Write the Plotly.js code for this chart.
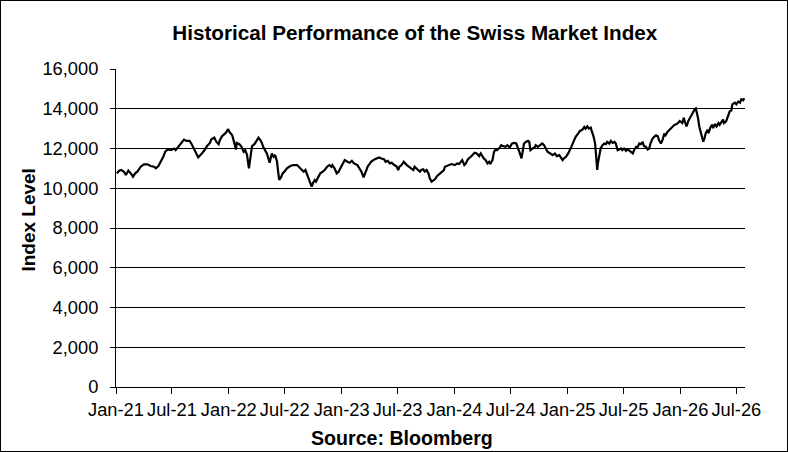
<!DOCTYPE html>
<html>
<head>
<meta charset="utf-8">
<script src="https://cdn.plot.ly/plotly-3.0.1.min.js"></script>
<style>
body{margin:0;padding:0;background:#fff;}
#chart{width:786px;height:450px;border:1px solid #000;}
</style>
</head>
<body>
<div id="chart"></div>
<script>
// SMI closing levels (roughly weekly).
var dates = [
'2021-01-04','2021-01-11','2021-01-18','2021-01-27','2021-02-02','2021-02-10','2021-02-18','2021-02-25','2021-03-04','2021-03-11',
'2021-03-22','2021-04-01','2021-04-13','2021-04-23','2021-05-04','2021-05-10','2021-05-18','2021-05-26','2021-06-03','2021-06-09',
'2021-06-17','2021-06-28','2021-07-08','2021-07-13','2021-07-23','2021-08-04','2021-08-09','2021-08-17','2021-08-27','2021-09-03',
'2021-09-10','2021-09-17','2021-09-24','2021-10-01','2021-10-13','2021-10-22','2021-11-01','2021-11-05','2021-11-15','2021-11-22',
'2021-11-29','2021-12-03','2021-12-10','2021-12-22','2021-12-27','2021-12-30','2022-01-03','2022-01-12','2022-01-17','2022-01-24',
'2022-01-27','2022-02-04','2022-02-10','2022-02-18','2022-02-23','2022-03-01','2022-03-07','2022-03-11','2022-03-17','2022-03-25',
'2022-04-01','2022-04-07','2022-04-12','2022-04-18','2022-04-22','2022-04-29','2022-05-04','2022-05-09','2022-05-13','2022-05-20',
'2022-05-26','2022-05-31','2022-06-06','2022-06-09','2022-06-13','2022-06-20','2022-06-24','2022-06-30','2022-07-08','2022-07-19',
'2022-07-29','2022-08-10','2022-08-17','2022-08-24','2022-08-31','2022-09-06','2022-09-12','2022-09-16','2022-09-22','2022-09-26',
'2022-09-30','2022-10-06','2022-10-10','2022-10-17','2022-10-24','2022-11-01','2022-11-07','2022-11-15','2022-11-22','2022-11-29',
'2022-12-02','2022-12-09','2022-12-16','2022-12-22','2022-12-28','2023-01-04','2023-01-11','2023-01-20','2023-01-27','2023-02-03',
'2023-02-10','2023-02-21','2023-02-28','2023-03-06','2023-03-13','2023-03-16','2023-03-21','2023-03-27','2023-04-03','2023-04-06',
'2023-04-17','2023-04-24','2023-05-02','2023-05-10','2023-05-19','2023-05-23','2023-05-30','2023-06-06','2023-06-12','2023-06-20',
'2023-06-27','2023-07-03','2023-07-07','2023-07-14','2023-07-21','2023-07-31','2023-08-07','2023-08-14','2023-08-21','2023-08-25',
'2023-09-04','2023-09-11','2023-09-15','2023-09-22','2023-09-27','2023-10-03','2023-10-09','2023-10-13','2023-10-19','2023-10-24',
'2023-10-30','2023-11-06','2023-11-14','2023-11-20','2023-11-28','2023-12-01','2023-12-11','2023-12-22','2024-01-02','2024-01-10',
'2024-01-16','2024-01-22','2024-01-26','2024-02-02','2024-02-07','2024-02-12','2024-02-16','2024-02-23','2024-02-28','2024-03-06',
'2024-03-13','2024-03-21','2024-03-26','2024-04-01','2024-04-05','2024-04-11','2024-04-17','2024-04-22','2024-04-26','2024-05-03',
'2024-05-08','2024-05-13','2024-05-17','2024-05-27','2024-05-31','2024-06-07','2024-06-14','2024-06-20','2024-06-28','2024-07-05',
'2024-07-11','2024-07-19','2024-07-24','2024-07-29','2024-08-05','2024-08-09','2024-08-13','2024-08-19','2024-08-26','2024-08-30',
'2024-09-03','2024-09-10','2024-09-16','2024-09-20','2024-09-27','2024-10-04','2024-10-11','2024-10-17','2024-10-23','2024-10-28',
'2024-11-06','2024-11-13','2024-11-21','2024-11-27','2024-12-05','2024-12-10','2024-12-16','2024-12-20','2024-12-27','2025-01-03',
'2025-01-09','2025-01-13','2025-01-20','2025-01-27','2025-02-04','2025-02-10','2025-02-18','2025-02-24','2025-02-28','2025-03-06',
'2025-03-11','2025-03-17','2025-03-21','2025-03-25','2025-03-31','2025-04-03','2025-04-07','2025-04-09','2025-04-14','2025-04-18',
'2025-04-24','2025-04-30','2025-05-05','2025-05-09','2025-05-16','2025-05-21','2025-05-27','2025-06-02','2025-06-06','2025-06-12',
'2025-06-17','2025-06-23','2025-06-27','2025-07-03','2025-07-09','2025-07-14','2025-07-18','2025-07-25','2025-07-31','2025-08-05',
'2025-08-11','2025-08-15','2025-08-21','2025-08-26','2025-09-01','2025-09-05','2025-09-12','2025-09-17','2025-09-22','2025-09-26',
'2025-10-03','2025-10-08','2025-10-14','2025-10-20','2025-10-24','2025-10-30','2025-11-04','2025-11-10','2025-11-14','2025-11-20',
'2025-11-26','2025-12-01','2025-12-05','2025-12-11','2025-12-22','2025-12-30','2026-01-07','2026-01-12','2026-01-15','2026-01-21',
'2026-01-26','2026-02-03','2026-02-09','2026-02-16','2026-02-20','2026-02-24','2026-02-27','2026-03-03','2026-03-06','2026-03-11',
'2026-03-16','2026-03-20','2026-03-24','2026-03-30','2026-04-02','2026-04-07','2026-04-13','2026-04-17','2026-04-22','2026-04-28',
'2026-05-04','2026-05-08','2026-05-14','2026-05-19','2026-05-22','2026-05-29','2026-06-04','2026-06-10','2026-06-15','2026-06-18',
'2026-06-26','2026-07-01','2026-07-07','2026-07-13','2026-07-17','2026-07-23','2026-07-27'
];
var smi_level = [
10750,10883,10917,10833,10667,10883,10750,10583,10750,10833,
11083,11200,11200,11117,11083,11000,11117,11333,11583,11833,
11950,11917,12000,11917,12117,12333,12450,12383,12383,12217,
12000,11783,11550,11667,11883,12117,12283,12450,12550,12333,
12217,12417,12617,12783,12917,12970,12833,12667,12383,11950,
12283,12217,12117,11833,11917,11667,11000,11583,12117,12217,
12417,12550,12450,12283,12083,11917,11750,11500,11283,11750,
11583,11667,11333,10917,10417,10583,10750,10833,11000,11117,
11167,11167,11050,10950,10833,10917,10717,10500,10250,10083,
10250,10417,10333,10583,10750,10833,10917,11083,11167,11083,
11167,11000,10750,10833,11000,11250,11417,11333,11283,11383,
11250,11167,11000,10833,10550,10667,10917,11117,11250,11333,
11450,11500,11550,11500,11450,11333,11383,11250,11283,11167,
11117,10917,11083,11167,11333,11167,11083,11000,10917,11083,
10950,10833,10917,10950,10833,10917,10750,10500,10333,10383,
10450,10617,10717,10833,10917,11083,11167,11217,11167,11250,
11217,11333,11417,11167,11250,11417,11500,11583,11667,11783,
11750,11617,11750,11583,11500,11417,11250,11333,11217,11417,
11833,11950,11917,12050,12167,12117,12083,12167,12050,12250,
12283,12250,12083,11833,11500,11917,12250,12333,12383,12333,
11917,12000,12050,12167,12083,12167,12250,12167,12000,11833,
11750,11667,11750,11617,11667,11550,11417,11500,11583,11750,
11917,12083,12333,12583,12750,12883,12950,13083,13000,13117,
13000,13050,12833,12667,12250,11417,10917,11250,11583,12000,
12167,12250,12217,12333,12250,12383,12283,12333,12250,11917,
11950,12000,11917,12000,11883,11950,11917,11833,11750,11950,
12083,12050,12250,12217,12333,12117,12083,11950,12000,12250,
12500,12583,12667,12617,12417,12250,12417,12750,12667,12833,
12917,13000,13050,13167,13250,13383,13283,13539,13368,13111,
13368,13624,13795,13966,14017,13795,13539,13111,12940,12684,
12342,12513,12770,12940,12770,13026,13197,13026,13231,13111,
13282,13197,13333,13453,13282,13368,13624,13880,13915,14222,
14308,14222,14359,14308,14479,14427,14530
];
var tick_dates = ['2021-01-01','2021-07-01','2022-01-01','2022-07-01','2023-01-01','2023-07-01',
'2024-01-01','2024-07-01','2025-01-01','2025-07-01','2026-01-01','2026-07-01'];
var tick_labels = ['Jan-21','Jul-21','Jan-22','Jul-22','Jan-23','Jul-23',
'Jan-24','Jul-24','Jan-25','Jul-25','Jan-26','Jul-26'];

var graph_data = [{
x: dates,
y: smi_level,
type: 'scatter',
mode: 'lines',
line: {color: '#000000', width: 2.2},
hoverinfo: 'x+y',
name: 'SMI'
}];

var layout = {
width: 786,
height: 450,
margin: {l: 115, r: 42, t: 68, b: 64},
paper_bgcolor: '#ffffff',
plot_bgcolor: '#ffffff',
showlegend: false,
font: {family: 'Liberation Sans, Arial, sans-serif', color: '#000000', size: 18}
};
layout.title = {
text: '<b>Historical Performance of the Swiss Market Index</b>',
font: {size: 20.7, family: 'Liberation Sans, Arial, sans-serif', color: '#000000'},
xref: 'paper',
x: 0.475,
xanchor: 'center',
yref: 'container',
y: 0.929,
yanchor: 'middle'
};
layout.xaxis = {
type: 'date',
range: ['2021-01-01', '2026-07-29'],
tickvals: tick_dates,
ticktext: tick_labels,
ticks: 'outside',
ticklen: 6,
tickcolor: '#000000',
showline: true,
linecolor: '#000000',
linewidth: 1,
showgrid: false,
zeroline: false,
tickfont: {size: 18.3}
};
layout.yaxis = {
range: [0, 16000],
tick0: 0,
dtick: 2000,
tickformat: ',d',
ticks: 'outside',
ticklen: 5,
tickcolor: '#000000',
ticklabelstandoff: 8,
showline: true,
linecolor: '#000000',
linewidth: 1,
showgrid: true,
gridcolor: '#000000',
gridwidth: 1,
zeroline: false,
tickfont: {size: 18.3}
};
layout.annotations = [{
text: '<b>Index Level</b>',
xref: 'paper', yref: 'paper',
x: -0.1406, y: 0.525,
xanchor: 'center', yanchor: 'middle',
textangle: -90,
showarrow: false,
font: {size: 19}
}, {
text: '<b>Source: Bloomberg</b>',
xref: 'paper', yref: 'paper',
x: 0.455, y: -0.160,
xanchor: 'center', yanchor: 'middle',
showarrow: false,
font: {size: 19.6}
}];

var config = {displayModeBar: false, responsive: false};
Plotly.newPlot('chart', graph_data, layout, config);
</script>
</body>
</html>
